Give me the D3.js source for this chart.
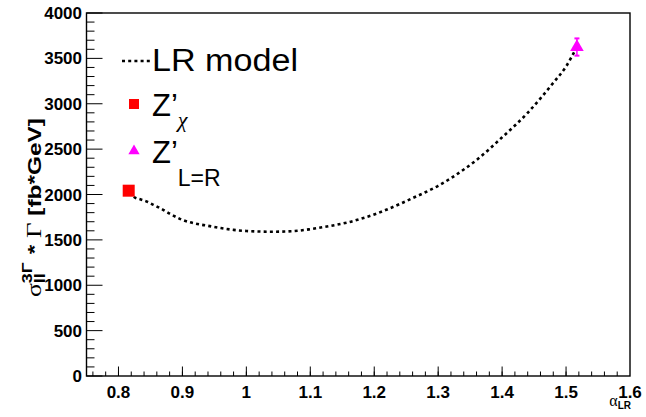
<!DOCTYPE html>
<html>
<head>
<meta charset="utf-8">
<script src="https://cdn.jsdelivr.net/npm/d3@7"></script>
<style>
  html, body { margin: 0; padding: 0; background: #fff; }
  svg { display: block; }
  text { white-space: pre; }
</style>
</head>
<body>
<svg id="chart" width="646" height="417"></svg>
<script>
// ---- data ----
const curveX = [0.818, 0.825, 0.835, 0.845, 0.855, 0.865, 0.88, 0.90, 0.92, 0.94, 0.96, 0.98, 1.00, 1.02, 1.04, 1.06, 1.08, 1.10, 1.12, 1.14, 1.16, 1.18, 1.20, 1.22, 1.24, 1.26, 1.28, 1.30, 1.32, 1.34, 1.36, 1.38, 1.40, 1.42, 1.44, 1.46, 1.48, 1.50, 1.515];
const curveY = [2030, 1970, 1945, 1920, 1885, 1850, 1790, 1720, 1680, 1655, 1630, 1610, 1598, 1592, 1590, 1592, 1600, 1618, 1640, 1665, 1695, 1735, 1780, 1835, 1895, 1960, 2025, 2095, 2180, 2275, 2380, 2500, 2630, 2760, 2900, 3060, 3230, 3410, 3600];
const zChiPoint = [0.816, 2042];
const zLRPoint = [1.517, 3625];
const zLRError = [95];
const xTickValues = [0.8, 0.9, 1.0, 1.1, 1.2, 1.3, 1.4, 1.5, 1.6];
const xTickLabels = ["0.8", "0.9", "1", "1.1", "1.2", "1.3", "1.4", "1.5", "1.6"];
const yTickValues = [0, 500, 1000, 1500, 2000, 2500, 3000, 3500, 4000];
const yTickLabels = ["0", "500", "1000", "1500", "2000", "2500", "3000", "3500", "4000"];
const xDomain = [0.75, 1.6];
const yDomain = [0, 4000];

// ---- layout ----
const svg = d3.select("#chart");
const L = 86.5, R = 630, T = 13, B = 376;
const x = d3.scaleLinear().domain(xDomain).range([L, R]);
const y = d3.scaleLinear().domain(yDomain).range([B, T]);

const boldFont = "'Liberation Sans', Arial, Helvetica, sans-serif";
const symFont = "'Liberation Serif', 'Times New Roman', serif";

// frame
svg.append("rect").attr("x", L).attr("y", T).attr("width", R - L).attr("height", B - T)
  .attr("fill", "none").attr("stroke", "#000").attr("stroke-width", 1.4);

// x axis ticks
const xMinor = d3.range(0, 43).map(i => +(0.76 + i * 0.02).toFixed(2)).filter(v => v > xDomain[0] && v < xDomain[1]);
const gx = svg.append("g");
gx.selectAll("line.minor").data(xMinor).enter().append("line")
  .attr("x1", d => x(d)).attr("x2", d => x(d)).attr("y1", B).attr("y2", B - 4.5)
  .attr("stroke", "#000").attr("stroke-width", 1);
gx.selectAll("line.major").data(xTickValues.filter(v => v < xDomain[1])).enter().append("line")
  .attr("x1", d => x(d)).attr("x2", d => x(d)).attr("y1", B).attr("y2", B - 9.5)
  .attr("stroke", "#000").attr("stroke-width", 1);
gx.selectAll("text").data(xTickValues).enter().append("text")
  .attr("x", (d) => x(d)).attr("y", 397.5)
  .attr("text-anchor", "middle")
  .style("font-family", boldFont).style("font-weight", "bold").style("font-size", "17px")
  .text((d, i) => xTickLabels[i]);

// y axis ticks
const yMinor = d3.range(0, 41).map(i => i * 100).filter(v => v % 500 !== 0);
const gy = svg.append("g");
gy.selectAll("line.minor").data(yMinor).enter().append("line")
  .attr("x1", L).attr("x2", L + 8).attr("y1", d => y(d)).attr("y2", d => y(d))
  .attr("stroke", "#000").attr("stroke-width", 1);
gy.selectAll("line.major").data(yTickValues).enter().append("line")
  .attr("x1", L).attr("x2", L + 16).attr("y1", d => y(d)).attr("y2", d => y(d))
  .attr("stroke", "#000").attr("stroke-width", 1);
gy.selectAll("text").data(yTickValues).enter().append("text")
  .attr("x", 82).attr("y", d => y(d) + 6)
  .attr("text-anchor", "end")
  .style("font-family", boldFont).style("font-weight", "bold").style("font-size", "17px")
  .text((d, i) => yTickLabels[i]);

// x axis title: alpha_LR
const xt = svg.append("text").attr("x", 631).attr("y", 406).attr("text-anchor", "end");
xt.append("tspan").style("font-family", symFont).style("font-size", "16px").text("α");
xt.append("tspan").attr("dy", 3).style("font-family", boldFont).style("font-weight", "bold").style("font-size", "10px").text("LR");

// y axis title (rotated), built piece by piece, then stretched to the reference length
const ytOuter = svg.append("g").attr("transform", "translate(41,297) rotate(-90)");
const yt = ytOuter.append("g");
let cx = 0;
function piece(txt, opts) {
  const t = yt.append("text").attr("x", cx).attr("y", opts.dy || 0)
    .style("font-family", opts.sym ? symFont : boldFont)
    .style("font-weight", opts.sym ? "normal" : "bold")
    .style("font-size", opts.size + "px")
    .text(txt);
  const w = t.node().getComputedTextLength();
  if (!opts.noAdvance) cx += w;
  return w;
}
piece("σ", { sym: true, size: 20 });
const startSup = cx;
const wSup = piece("3Γ", { size: 14, dy: -9, noAdvance: true });
piece("ll", { size: 14, dy: 4, noAdvance: true });
cx = startSup + Math.max(wSup, 8) + 1;
piece(" * ", { size: 19 });
piece("Γ", { sym: true, size: 21 });
piece(" [fb*GeV]", { size: 19 });
const targetLen = 179;
yt.attr("transform", `scale(${targetLen / cx},1)`);

// ---- curve ----
const lineGen = d3.line().x((d, i) => x(curveX[i])).y((d, i) => y(curveY[i])).curve(d3.curveMonotoneX);
svg.append("path").datum(curveX).attr("d", lineGen)
  .attr("fill", "none").attr("stroke", "#000").attr("stroke-width", 2.6)
  .attr("stroke-dasharray", "3,3.2");

// ---- markers ----
const sq = 12;
svg.append("rect").attr("x", x(zChiPoint[0]) - sq / 2).attr("y", y(zChiPoint[1]) - sq / 2)
  .attr("width", sq).attr("height", sq).attr("fill", "#ff0000");

const mg = "#ff00ff";
const tx = x(zLRPoint[0]), ty = y(zLRPoint[1]);
svg.append("line").attr("x1", tx).attr("x2", tx).attr("y1", y(zLRPoint[1] + zLRError[0])).attr("y2", y(zLRPoint[1] - zLRError[0]))
  .attr("stroke", mg).attr("stroke-width", 1.5);
[zLRPoint[1] + zLRError[0], zLRPoint[1] - zLRError[0]].forEach(v => {
  svg.append("line").attr("x1", tx - 2.5).attr("x2", tx + 2.5).attr("y1", y(v)).attr("y2", y(v))
    .attr("stroke", mg).attr("stroke-width", 2);
});
svg.append("path").attr("d", d3.symbol().type(d3.symbolTriangle).size(80)())
  .attr("transform", `translate(${tx},${ty})`).attr("fill", mg);

// ---- legend ----
const lg = svg.append("g");
lg.append("line").attr("x1", 122).attr("x2", 151).attr("y1", 61).attr("y2", 61)
  .attr("stroke", "#000").attr("stroke-width", 2.6).attr("stroke-dasharray", "3,3.2");
lg.append("text").attr("x", 152).attr("y", 71).attr("textLength", 146).attr("lengthAdjust", "spacingAndGlyphs")
  .style("font-family", boldFont).style("font-size", "31px").text("LR model");

lg.append("rect").attr("x", 129).attr("y", 99).attr("width", 10).attr("height", 10).attr("fill", "#ff0000");
const t2 = lg.append("text").attr("x", 152).attr("y", 116).style("font-family", boldFont).style("font-size", "31px");
t2.append("tspan").text("Z’");
t2.append("tspan").attr("dy", 11).style("font-family", symFont).style("font-style", "italic").style("font-size", "22px").text("χ");

lg.append("path").attr("d", d3.symbol().type(d3.symbolTriangle).size(55)())
  .attr("transform", "translate(134,151)").attr("fill", mg);
const t3 = lg.append("text").attr("x", 152).attr("y", 163).style("font-family", boldFont).style("font-size", "31px");
t3.append("tspan").text("Z’");
t3.append("tspan").attr("dy", 23).style("font-size", "23px").text("L=R");
</script>
</body>
</html>
